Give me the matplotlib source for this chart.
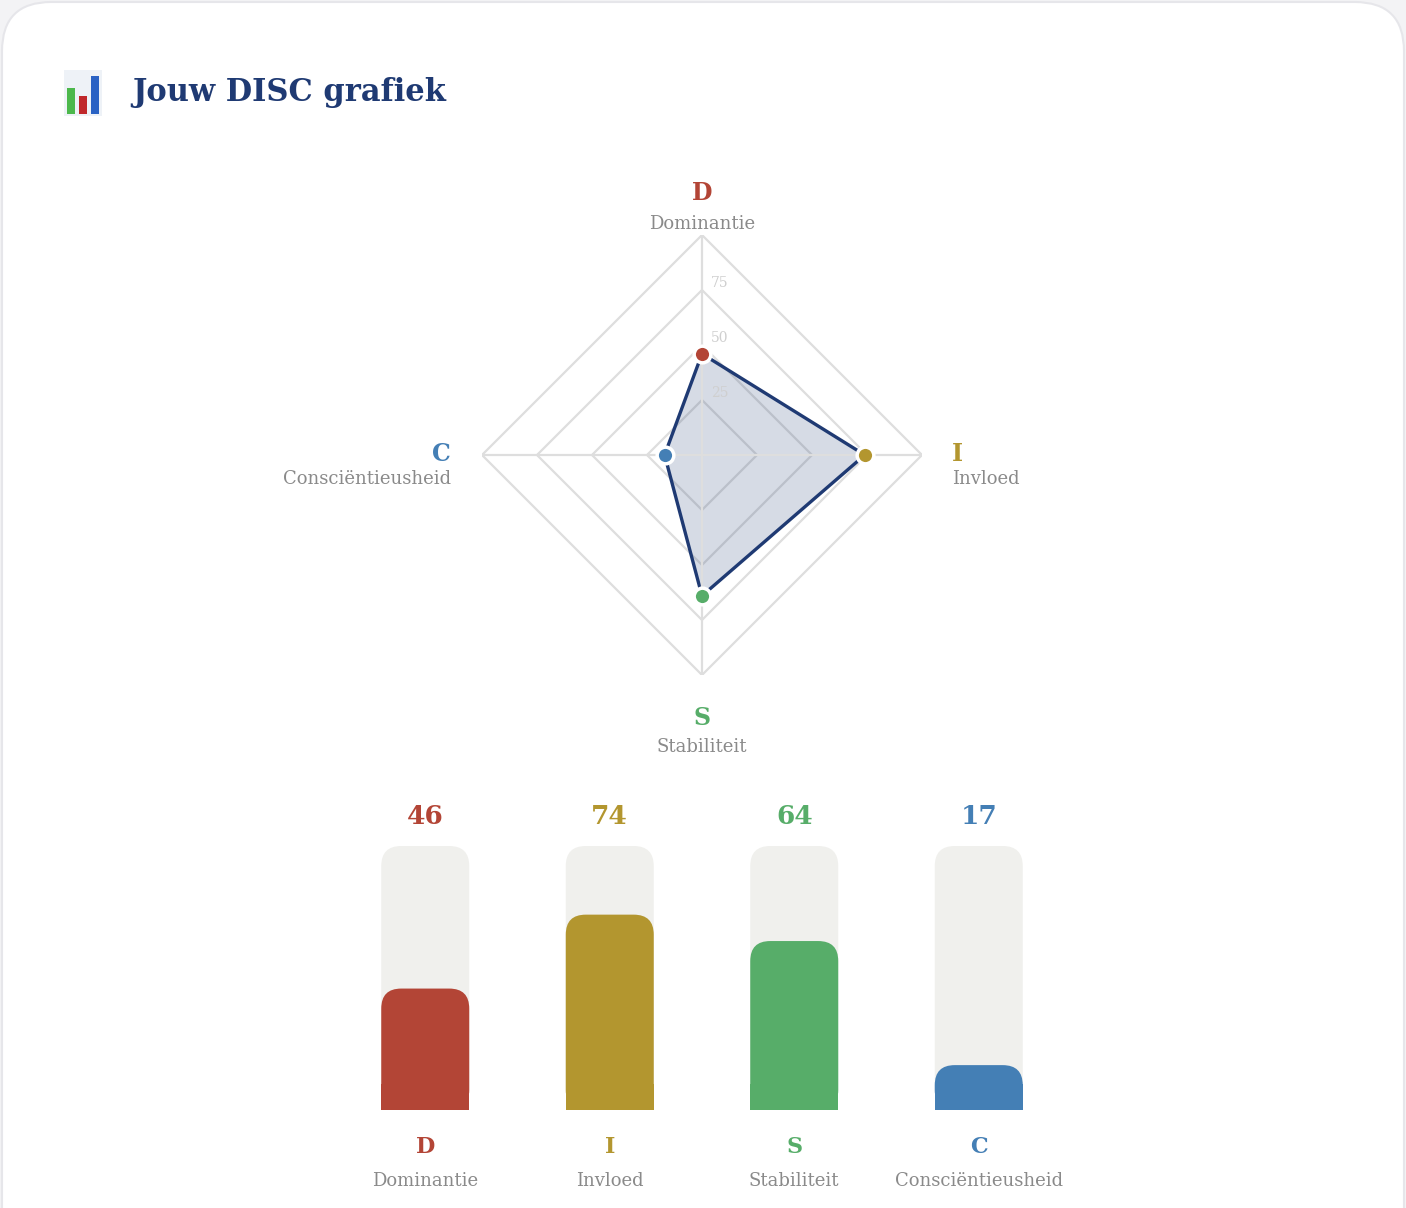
import matplotlib
matplotlib.use("Agg")
import matplotlib.pyplot as plt
import numpy as np
from matplotlib.patches import FancyBboxPatch, Rectangle, Polygon

letters = ["D", "I", "S", "C"]
names = ["Dominantie", "Invloed", "Stabiliteit", "Consciëntieusheid"]
values = [46, 74, 64, 17]
colors = ["#b34536", "#b3962f", "#57ad69", "#447fb5"]
ring_levels = [25, 50, 75, 100]
ring_labels = ["25", "50", "75"]

NAVY = "#1f3a73"
GRID = "#dedede"
GREYTXT = "#8a8a8a"
SERIF = ["DejaVu Serif"]

W, H = 1406, 1208
fig = plt.figure(figsize=(W/100, H/100), dpi=100)
fig.patch.set_facecolor("#f3f3f5")
card = FancyBboxPatch((2/W, -0.1), (W-4)/W, 1 - 2/H + 0.1,
                      boxstyle="round,pad=0,rounding_size=0.035",
                      transform=fig.transFigure, facecolor="white",
                      edgecolor="#e6e6ea", lw=1.5, mutation_aspect=W/H, zorder=-10)
fig.patches.append(card)

def fx(px): return px / W
def fy(py): return 1 - py / H

# Title and icon
fig.text(fx(132), fy(93), "Jouw DISC grafiek", fontsize=22, fontweight="bold",
         color=NAVY, family=SERIF, va="center")
icon_ax = fig.add_axes([fx(64), fy(116), 38/W, 46/H])
icon_ax.set_xlim(0, 38); icon_ax.set_ylim(0, 46); icon_ax.axis("off")
icon_ax.add_patch(Rectangle((0, 0), 38, 46, facecolor="#eef2f7", edgecolor="none"))
icon_ax.add_patch(Rectangle((3, 2), 8, 26, facecolor="#4cb84c"))
icon_ax.add_patch(Rectangle((15, 2), 8, 18, facecolor="#c0282b"))
icon_ax.add_patch(Rectangle((27, 2), 8, 38, facecolor="#2a62c4"))

# Radar
rax = fig.add_axes([fx(482), fy(675), 440/W, 440/H])
rax.set_xlim(-100, 100); rax.set_ylim(-100, 100); rax.axis("off")
angles = np.deg2rad([90, 0, -90, 180])
dirs = np.stack([np.cos(angles), np.sin(angles)], axis=1)
for lvl in ring_levels:
    rax.add_patch(Polygon(dirs * lvl, closed=True, fill=False, edgecolor=GRID, lw=1.6))
for d in dirs:
    rax.plot([0, d[0]*100], [0, d[1]*100], color=GRID, lw=1.6)
for lvl, lab in zip(ring_levels, ring_labels):
    rax.text(4, lvl, lab, fontsize=10, color="#cfcfcf", va="bottom", ha="left", family=SERIF)
pts = dirs * np.array(values)[:, None]
rax.add_patch(Polygon(pts, closed=True, facecolor=NAVY, alpha=0.18, edgecolor="none"))
rax.add_patch(Polygon(pts, closed=True, fill=False, edgecolor=NAVY, lw=2.4, joinstyle="round"))
for p, c in zip(pts, colors):
    rax.plot(p[0], p[1], "o", ms=12, mfc=c, mec="white", mew=2.5, zorder=5)

# radar labels
lab_pos = [(702, 193, 224, "center"), (952, 454, 479, "left"),
           (702, 718, 747, "center"), (451, 454, 479, "right")]
for (x, yl, yn, ha), l, n, c in zip(lab_pos, letters, names, colors):
    fig.text(fx(x), fy(yl), l, fontsize=17, fontweight="bold", color=c, family=SERIF, ha=ha, va="center")
    fig.text(fx(x), fy(yn), n, fontsize=13, color=GREYTXT, family=SERIF, ha=ha, va="center")

# Bars
bax = fig.add_axes([fx(333), fy(1110), (1071-333)/W, 264/H])
bax.set_xlim(-0.5, 3.5); bax.set_ylim(0, 100); bax.axis("off")
xunit_px = (1071-333)/4
yunit_px = 264/100
aspect = (1/yunit_px)/(1/xunit_px)
bw = 88/xunit_px
r = 20/xunit_px
def rbar(x, h, color):
    bax.add_patch(FancyBboxPatch((x-bw/2, 0), bw, h,
                  boxstyle=f"round,pad=0,rounding_size={r}", mutation_aspect=aspect,
                  facecolor=color, edgecolor="none", clip_on=False))
    low = min(h, 10)
    bax.add_patch(Rectangle((x-bw/2, 0), bw, low, facecolor=color, edgecolor="none"))
for i, (v, c, l, n) in enumerate(zip(values, colors, letters, names)):
    rbar(i, 100, "#f0f0ed")
    rbar(i, v, c)
    bax.text(i, 111, str(v), fontsize=19, fontweight="bold", color=c, family=SERIF,
             ha="center", va="center", clip_on=False)
    bax.text(i, -14, l, fontsize=16, fontweight="bold", color=c, family=SERIF,
             ha="center", va="center", clip_on=False)
    bax.text(i, -27, n, fontsize=13, color=GREYTXT, family=SERIF,
             ha="center", va="center", clip_on=False)

fig.savefig("out.png", dpi=100, facecolor=fig.get_facecolor())
